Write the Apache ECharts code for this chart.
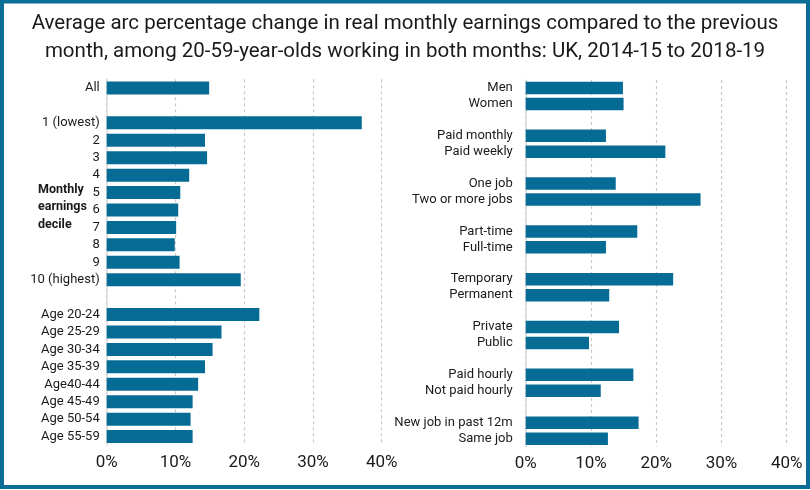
<!DOCTYPE html>
<html>
<head>
<meta charset="utf-8">
<script src="https://cdn.jsdelivr.net/npm/echarts@6/dist/echarts.min.js"></script>
<style>
html,body{margin:0;padding:0;background:#fff;}
#c{width:810px;height:490px;}
</style>
</head>
<body>
<div id="c"></div>
<script>
const titleText = 'Average arc percentage change in real monthly earnings compared to the previous\nmonth, among 20-59-year-olds working in both months: UK, 2014-15 to 2018-19';
const sideLabel = 'Monthly\nearnings\ndecile';

const leftCategories = ['All', ' ', '1 (lowest)', '2', '3', '4', '5', '6', '7', '8', '9', '10 (highest)', '  ',
  'Age 20-24', 'Age 25-29', 'Age 30-34', 'Age 35-39', 'Age40-44', 'Age 45-49', 'Age 50-54', 'Age 55-59'];
const leftValues = [14.9, null, 37.1, 14.3, 14.6, 12.0, 10.7, 10.4, 10.1, 9.9, 10.6, 19.5, null,
  22.2, 16.7, 15.4, 14.3, 13.3, 12.5, 12.2, 12.5];

const rightCategories = ['Men', 'Women', ' ', 'Paid monthly', 'Paid weekly', '  ', 'One job', 'Two or more jobs', '   ',
  'Part-time', 'Full-time', '    ', 'Temporary', 'Permanent', '     ', 'Private', 'Public', '      ',
  'Paid hourly', 'Not paid hourly', '       ', 'New job in past 12m', 'Same job'];
const rightValues = [14.9, 15.0, null, 12.3, 21.4, null, 13.8, 26.8, null,
  17.1, 12.3, null, 22.6, 12.8, null, 14.3, 9.7, null,
  16.5, 11.5, null, 17.3, 12.6];

const xTicks = [0, 10, 20, 30, 40];

const FONT = 'Roboto';
const BAR = '#066c96';
const TXT = '#1a1a1a';

const chart = echarts.init(document.getElementById('c'), null, {renderer: 'canvas'});

function xAxis(gi) {
  return {
    gridIndex: gi, type: 'value', min: xTicks[0], max: xTicks[xTicks.length - 1], interval: xTicks[1] - xTicks[0],
    axisLine: {show: false}, axisTick: {show: false},
    axisLabel: {formatter: '{value}%', fontSize: 17, color: TXT, fontFamily: FONT, margin: 9},
    splitLine: {show: true, lineStyle: {type: [3, 3], color: '#c8c8c8', width: 1.2}}
  };
}
function yAxis(gi, cats, margin, pad) {
  return {
    gridIndex: gi, type: 'category', data: cats, inverse: true,
    axisLine: {show: true, lineStyle: {color: '#dcdcdc', width: 1.5}},
    axisTick: {show: false},
    axisLabel: {fontSize: 13, color: TXT, fontFamily: FONT, margin: margin, interval: 0, padding: pad}
  };
}

chart.setOption({
  animation: false,
  backgroundColor: '#fff',
  title: {
    text: titleText, left: 'center', top: 5,
    textStyle: {fontSize: 20.5, fontWeight: 'normal', color: TXT, fontFamily: FONT, lineHeight: 28}
  },
  grid: [
    {left: 106.7, width: 275, top: 79.3, height: 366},
    {left: 525.7, width: 261, top: 80, height: 366.6}
  ],
  xAxis: [xAxis(0), xAxis(1)],
  yAxis: [yAxis(0, leftCategories, 7, [0, 0, 0, 0]), yAxis(1, rightCategories, 13, [0, 0, 8, 0])],
  series: [
    {type: 'bar', xAxisIndex: 0, yAxisIndex: 0, data: leftValues, barWidth: 13,
     itemStyle: {color: BAR}},
    {type: 'bar', xAxisIndex: 1, yAxisIndex: 1, data: rightValues, barWidth: 12.5,
     itemStyle: {color: BAR}}
  ],
  graphic: [
    {type: 'rect', shape: {x: 2, y: 1.5, width: 806, height: 485.5},
     style: {fill: 'none', stroke: '#0b6e96', lineWidth: 4}, silent: true, z: 100},
    {type: 'text', left: 38, top: 181, style: {text: sideLabel, fontSize: 12.5, fontWeight: 'bold',
      fill: TXT, fontFamily: FONT, align: 'center', lineHeight: 17.5}}
  ]
});
</script>
</body>
</html>
